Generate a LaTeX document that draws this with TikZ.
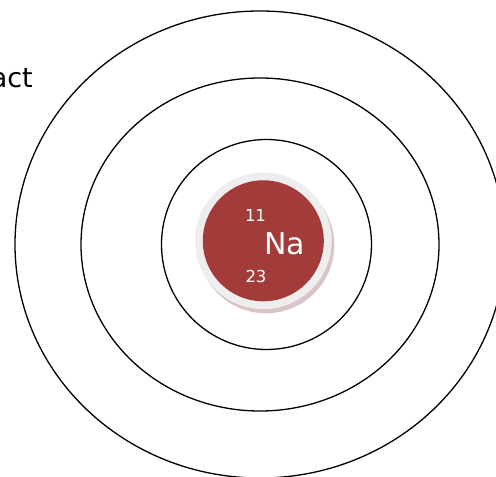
\documentclass[tikz,border=0pt]{standalone}
\usepackage{fontspec}
\setmainfont{DejaVu Sans}
\definecolor{NucleusRed}{HTML}{A33B3B}
\definecolor{RimGray}{HTML}{EFEEEE}
\definecolor{RimShadow}{HTML}{D9C5C5}

\begin{document}
\begin{tikzpicture}[x=1pt, y=1pt,
        shell/.style={draw=black, line width=1.3pt},
        numtext/.style={text=white, inner sep=0pt, font=\fontsize{16.5}{18}\selectfont}]
        \useasboundingbox (0,0) rectangle (496,477);
        \clip (0,0) rectangle (496,477);

        \node[anchor=base east, inner sep=0pt, font=\fontsize{27}{30}\selectfont] (title) at (33,389) {act};

        \draw[shell] (260,232.5) ellipse [x radius=245, y radius=233.5];
        \draw[shell] (260,232.5) ellipse [x radius=179, y radius=166.5];
        \draw[shell] (266.5,232.5) circle [radius=105];

        \fill[RimShadow] (266,232) circle [radius=68.3];
        \node[circle, fill=RimGray, minimum size=136.6pt, inner sep=0pt] (rim) at (263.3,236.2) {};
        \node[circle, fill=NucleusRed, minimum size=121pt, inner sep=0pt] (na) at (263.3,236.2) {};

        \node[numtext] (z) at (255.5,262) {11};
        \node[text=white, inner sep=0pt, font=\fontsize{30}{33}\selectfont] (sym) at (284.5,233) {Na};
        \node[numtext] (a) at (256,200.5) {23};
    \end{tikzpicture}
\end{document}
